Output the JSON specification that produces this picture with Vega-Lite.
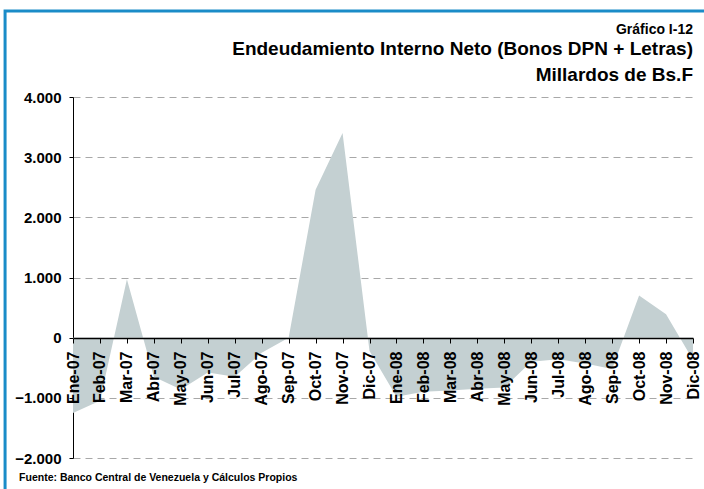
{
  "$schema": "https://vega.github.io/schema/vega-lite/v6.json",
  "width": 620,
  "height": 361,
  "autosize": {"type": "none"},
  "padding": {"left": 73, "top": 97, "right": 11, "bottom": 31},
  "background": "white",
  "config": {"view": {"stroke": null}, "font": "Liberation Sans"},
  "title": {
    "text": "Gráfico I-12",
    "subtitle": ["Endeudamiento Interno Neto (Bonos DPN + Letras)", "Millardos de Bs.F"],
    "anchor": "end",
    "frame": "group",
    "font": "Liberation Sans",
    "fontSize": 14,
    "fontWeight": "bold",
    "color": "black",
    "subtitleFont": "Liberation Sans",
    "subtitleFontSize": 19,
    "subtitleFontWeight": "bold",
    "subtitleColor": "black",
    "subtitleLineHeight": 26,
    "subtitlePadding": 3,
    "offset": -76
  },
  "data": {
    "values": [
      {"i": 0, "mes": "Ene-07", "valor": -1250},
      {"i": 1, "mes": "Feb-07", "valor": -1050},
      {"i": 2, "mes": "Mar-07", "valor": 970},
      {"i": 3, "mes": "Abr-07", "valor": -650},
      {"i": 4, "mes": "May-07", "valor": -860},
      {"i": 5, "mes": "Jun-07", "valor": -580},
      {"i": 6, "mes": "Jul-07", "valor": -650},
      {"i": 7, "mes": "Ago-07", "valor": -250},
      {"i": 8, "mes": "Sep-07", "valor": 0},
      {"i": 9, "mes": "Oct-07", "valor": 2460},
      {"i": 10, "mes": "Nov-07", "valor": 3400},
      {"i": 11, "mes": "Dic-07", "valor": -220},
      {"i": 12, "mes": "Ene-08", "valor": -980},
      {"i": 13, "mes": "Feb-08", "valor": -900},
      {"i": 14, "mes": "Mar-08", "valor": -880},
      {"i": 15, "mes": "Abr-08", "valor": -850},
      {"i": 16, "mes": "May-08", "valor": -830},
      {"i": 17, "mes": "Jun-08", "valor": -400},
      {"i": 18, "mes": "Jul-08", "valor": -360},
      {"i": 19, "mes": "Ago-08", "valor": -430},
      {"i": 20, "mes": "Sep-08", "valor": -520},
      {"i": 21, "mes": "Oct-08", "valor": 700},
      {"i": 22, "mes": "Nov-08", "valor": 390},
      {"i": 23, "mes": "Dic-08", "valor": -370}
    ]
  },
  "resolve": {"scale": {"x": "independent"}, "axis": {"x": "independent"}},
  "layer": [
    {
      "data": {"values": [{}]},
      "mark": {"type": "rect", "filled": false, "stroke": "#1a8cc8", "strokeWidth": 3},
      "encoding": {
        "x": {"datum": -2.52, "type": "quantitative", "scale": {"domain": [0, 23], "nice": false, "zero": false}, "axis": null},
        "x2": {"datum": 26},
        "y": {"datum": 5430, "type": "quantitative"},
        "y2": {"datum": -2800}
      }
    },
    {
      "mark": {"type": "area", "color": "#c4d0d2", "line": false, "interpolate": "linear"},
      "encoding": {
        "x": {
          "field": "mes",
          "type": "ordinal",
          "sort": null,
          "scale": {"type": "point", "padding": 0},
          "axis": {
            "orient": "bottom",
            "offset": -120,
            "zindex": 1,
            "labelAngle": -90,
            "labelAlign": "right",
            "labelBaseline": "middle",
            "labelFont": "Liberation Sans",
            "labelFontSize": 16,
            "labelFontWeight": "bold",
            "labelColor": "black",
            "labelPadding": 8,
            "labelOverlap": false,
            "labelBound": false,
            "labelFlush": false,
            "domainColor": "black",
            "domainWidth": 1.5,
            "tickColor": "black",
            "tickSize": 5,
            "grid": false,
            "title": null
          }
        },
        "y": {
          "field": "valor",
          "type": "quantitative",
          "scale": {"domain": [-2000, 4000], "nice": false},
          "axis": {
            "values": [-2000, -1000, 0, 1000, 2000, 3000, 4000],
            "labelExpr": "replace(format(datum.value, ','), ',', '.')",
            "labelFont": "Liberation Sans",
            "labelFontSize": 15,
            "labelFontWeight": "bold",
            "labelColor": "black",
            "labelPadding": 8,
            "domainColor": "black",
            "tickColor": "black",
            "tickSize": 4,
            "grid": true,
            "gridColor": "#a8a8a8",
            "gridDash": [7, 5],
            "title": null
          }
        }
      }
    },
    {
      "data": {"values": [{}]},
      "mark": {"type": "text", "text": "Fuente: Banco Central de Venezuela y Cálculos Propios", "align": "left", "baseline": "middle", "font": "Liberation Sans", "fontSize": 10.5, "fontWeight": "bold", "color": "black"},
      "encoding": {
        "x": {"datum": -2.0, "type": "quantitative", "scale": {"domain": [0, 23], "nice": false, "zero": false}, "axis": null},
        "y": {"datum": -2330, "type": "quantitative"}
      }
    }
  ]
}
